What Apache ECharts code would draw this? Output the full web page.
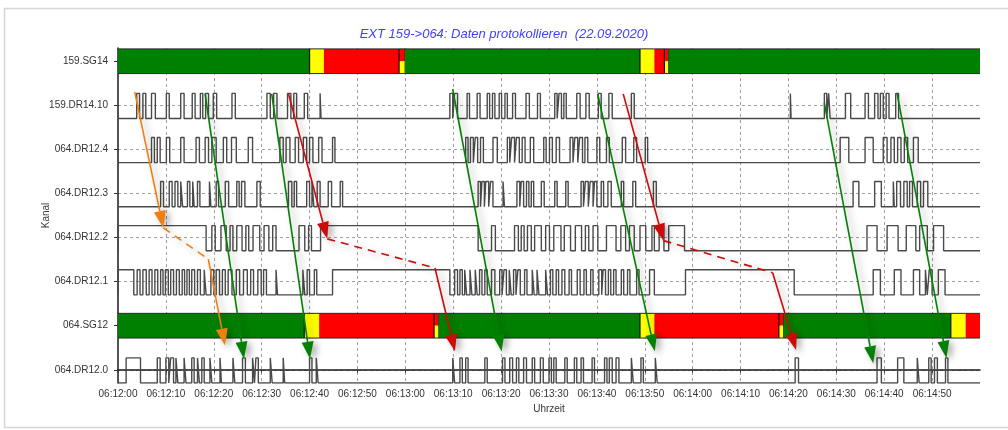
<!DOCTYPE html>
<html>
<head>
<meta charset="utf-8">
<script src="https://cdn.jsdelivr.net/npm/echarts@6/dist/echarts.min.js"></script>
<style>
  html, body { margin: 0; padding: 0; background: #fff; }
  #chart { width: 1008px; height: 430px; }
</style>
</head>
<body>
<div id="chart"></div>
<script>
// Channel names, bottom (value 0) to top (value 7)
const rowNames = ['064.DR12.0', '064.SG12', '064.DR12.1', '064.DR12.2', '064.DR12.3', '064.DR12.4', '159.DR14.10', '159.SG14'];
const rowValues = [0, 1, 2, 3, 4, 5, 6, 7];

// Time axis: seconds after 06:12:00
const startSeconds = 6 * 3600 + 12 * 60;
const timeMin = 0;
const timeMax = 180;
const timeStep = 10;

// Status bars: [from s, to s, state]  state: 0 = ok (green), 1 = warning (yellow), 2 = fault (red), 3 = fault/warning split
const sg14Segments = [[0, 40, 0], [40, 43, 1], [43, 58.7, 2], [58.7, 59.95, 3], [59.95, 109, 0], [109, 112, 1], [112, 114.1, 2], [114.1, 115, 3], [115, 180, 0]];
const sg12Segments = [[0, 38.9, 0], [38.9, 42.0, 1], [42.0, 66.0, 2], [66.0, 67.0, 3], [67.0, 109.0, 0], [109.0, 112.0, 1], [112.0, 138.0, 2], [138.0, 139.0, 3], [139.0, 173.9, 0], [173.9, 177.0, 1], [177.0, 180, 2]];

// Digital channels: intervals [from s, to s] where the signal is high
const dr1410High = [[3.9, 4.5], [5.2, 5.8], [7.0, 7.8], [10.1, 10.7], [13.1, 13.8], [15.5, 16.1], [17.2, 17.7], [18.3, 18.9], [19.9, 20.6], [23.8, 24.5], [31.1, 31.8], [32.5, 33.2], [35.4, 36.1], [36.7, 37.3], [38.9, 39.6], [42.2, 42.4],
  [69.3, 69.9], [70.3, 70.9], [72.9, 73.4], [75.0, 75.6], [77.1, 77.6], [78.2, 78.7], [79.6, 80.1], [80.8, 81.3], [82.4, 83.0], [85.2, 85.9], [87.6, 88.2], [91.2, 91.7], [92.1, 92.6], [93.1, 93.6], [95.8, 96.5], [97.7, 98.4], [100.3, 100.9], [102.5, 103.2], [107.2, 107.8],
  [140.4, 140.55], [147.5, 148.0], [148.4, 148.7], [151.9, 153.0], [156.0, 156.7], [158.0, 158.7], [159.2, 159.8], [160.4, 161.0], [162.4, 163.0]];
const dr124High = [[7.0, 7.6], [8.2, 8.8], [10.1, 10.8], [13.1, 13.8], [16.3, 17.0], [18.2, 18.9], [19.6, 20.5], [22.0, 22.7], [23.7, 24.7], [27.2, 28.1], [33.8, 34.5], [35.1, 35.9], [37.0, 37.7], [38.7, 39.4], [40.0, 40.7], [41.9, 42.6], [44.8, 45.3],
  [72.6, 73.1], [73.6, 74.2], [74.6, 75.1], [75.7, 76.3], [78.3, 79.2], [81.3, 81.8], [82.2, 82.8], [83.2, 83.8], [84.4, 85.0], [86.1, 86.8], [88.9, 89.4], [90.1, 90.7], [91.5, 92.2], [94.4, 95.0], [95.4, 96.0], [96.4, 97.0], [97.5, 98.1], [100.0, 100.6], [102.0, 102.6], [105.3, 106.0], [107.7, 108.3], [110.1, 110.6],
  [150.8, 152.6], [156.0, 157.7], [159.8, 160.6], [161.4, 162.1], [162.8, 163.5], [164.2, 164.9], [166.1, 167.1]];
const dr123High = [[8.9, 9.5], [10.7, 11.3], [11.9, 12.5], [13.1, 13.5], [14.5, 15.0], [15.6, 15.9], [16.6, 17.1], [19.1, 19.4], [20.5, 21.0], [22.4, 23.1], [24.8, 25.3], [25.8, 26.5], [29.0, 29.7], [35.6, 36.3], [36.8, 37.3], [39.4, 40.0], [40.5, 40.9], [41.6, 42.2], [43.9, 44.6], [46.4, 46.9],
  [75.2, 75.7], [76.0, 76.5], [76.8, 77.4], [77.8, 78.3], [80.4, 80.7], [83.3, 83.9], [84.2, 84.7], [85.3, 85.8], [86.3, 86.8], [88.4, 89.0], [91.2, 91.7], [93.5, 94.0], [96.7, 97.2], [97.6, 98.2], [98.6, 99.2], [99.5, 100.0], [100.9, 101.4], [102.3, 103.0], [105.1, 105.6], [107.5, 108.1], [111.8, 112.4],
  [153.5, 154.7], [158.0, 159.4], [161.9, 162.1], [162.6, 163.4], [164.1, 164.8], [165.3, 165.9], [166.9, 167.6], [168.2, 169.1]];
const dr122High = [[0, 18.4], [19.6, 20.3], [21.5, 22.6], [23.4, 24.0], [24.8, 25.9], [26.7, 27.3], [28.2, 29.6], [30.5, 31.5], [32.3, 33.0], [37.8, 39.0], [39.8, 40.4], [42.3, 75.2],
  [78.0, 78.8], [82.8, 83.6], [84.2, 84.8], [85.5, 86.3], [87.0, 88.4], [89.3, 90.1], [91.0, 92.5], [93.2, 94.5], [95.5, 96.8], [97.6, 98.3], [99.2, 100.2], [102.0, 104.0], [105.0, 106.0], [106.8, 107.8], [109.0, 110.2], [111.5, 112.0], [113.0, 114.0], [115.0, 118.3],
  [156.4, 158.5], [160.6, 162.9], [164.6, 166.6], [167.4, 169.0], [170.3, 172.4]];
const dr121High = [[0, 3.3], [4.0, 4.6], [5.2, 5.9], [6.5, 7.1], [7.7, 8.3], [8.9, 9.4], [9.9, 10.5], [11.0, 11.6], [12.2, 12.8], [13.4, 13.9], [14.4, 14.9], [15.4, 16.0], [16.6, 17.2], [18.0, 18.4], [19.4, 20.0], [20.5, 21.2], [21.8, 22.4], [23.0, 23.8], [24.7, 25.4], [26.2, 27.0], [27.7, 28.3], [29.2, 29.9], [30.4, 31.0], [33.0, 33.3], [38.6, 39.0], [39.5, 40.0], [41.0, 41.5], [44.8, 69.3],
  [70.3, 70.9], [71.4, 71.9], [72.4, 72.8], [73.5, 73.9], [74.6, 75.0], [75.5, 76.0], [76.6, 77.1], [78.0, 78.7], [79.7, 80.2], [80.6, 81.1], [81.7, 82.1], [82.6, 83.1], [83.5, 84.0], [84.9, 85.4], [86.5, 86.9], [87.5, 87.9], [89.3, 89.7], [90.3, 90.8], [91.5, 92.0], [92.7, 93.3], [94.2, 94.7], [95.9, 96.5], [97.3, 97.8], [98.7, 99.2], [100.4, 101.0], [101.3, 101.8], [102.4, 102.9], [103.5, 104.0], [105.1, 105.6], [106.4, 106.9], [108.3, 108.8], [111.0, 112.0], [118.5, 141.2],
  [157.7, 159.2], [162.1, 163.5], [166.1, 167.4], [168.6, 169.0], [169.4, 170.0], [171.3, 172.7]];
const dr120High = [[1.7, 4.7], [8.2, 8.8], [10.0, 10.6], [11.0, 11.6], [12.1, 12.5], [13.8, 14.2], [15.4, 15.9], [16.6, 17.0], [17.5, 18.0], [19.2, 19.6], [21.3, 21.6], [24.0, 24.4], [26.0, 26.6], [28.1, 28.5], [28.8, 29.3], [31.8, 32.2], [34.5, 34.8], [40.0, 40.5], [41.4, 41.8],
  [69.9, 70.3], [71.4, 71.9], [72.6, 73.1], [76.6, 77.1], [80.3, 80.8], [81.8, 82.4], [83.2, 83.7], [84.7, 85.3], [86.5, 87.0], [88.2, 88.8], [90.0, 90.5], [91.0, 91.5], [93.3, 93.8], [95.3, 95.8], [96.7, 97.2], [99.0, 99.5], [101.6, 102.1], [102.6, 103.2], [104.0, 104.6], [107.2, 107.6], [109.2, 109.7], [112.2, 112.6],
  [141.4, 142.1], [158.5, 159.4], [162.8, 164.1], [166.9, 167.3], [169.3, 169.8], [170.5, 171.1], [172.8, 173.3]];

// Cause/effect arrows: [t1, v1, t2, v2, colour index, dashed, arrow head]
const arrowSegments = [
  [3.5, 6.3, 9.46, 3.22, 0, 0, 1],
  [9.46, 3.22, 18.86, 2.51, 0, 1, 0],
  [18.86, 2.51, 22.34, 0.55, 0, 0, 1],
  [18.17, 6.27, 26.3, 0.25, 1, 0, 1],
  [32.1, 6.26, 40.1, 0.25, 1, 0, 1],
  [35.57, 6.27, 43.7, 2.97, 2, 0, 1],
  [43.7, 2.97, 66.19, 2.31, 2, 1, 0],
  [66.19, 2.31, 70.37, 0.42, 2, 0, 1],
  [69.89, 6.37, 80.1, 0.42, 1, 0, 1],
  [100.17, 6.26, 112.1, 0.42, 1, 0, 1],
  [105.5, 6.26, 113.9, 2.93, 2, 0, 1],
  [113.9, 2.93, 136.7, 2.2, 2, 1, 0],
  [136.7, 2.2, 141.6, 0.45, 2, 0, 1],
  [147.5, 6.05, 157.7, 0.15, 1, 0, 1],
  [162.7, 6.26, 173.0, 0.27, 1, 0, 1]
];

const arrowColors = ['#f07f12', '#058005', '#cc0a0a'];
const stateColors = ['#008000', '#ffff00', '#ff0000'];
const HIGH = 0.27, LOW = -0.3, BAR_HALF = 0.28;
const fontFamily = '"Liberation Sans", Arial, sans-serif';

function pad2(n) { return (n < 10 ? '0' : '') + n; }
function clock(v) {
  const s = Math.round(startSeconds + v);
  return pad2(Math.floor(s / 3600)) + ':' + pad2(Math.floor(s / 60) % 60) + ':' + pad2(s % 60);
}

// Square wave polyline for one channel
function wave(row, highs) {
  const lo = row + LOW, hi = row + HIGH;
  const pts = [[timeMin, lo]];
  highs.forEach(([a, b]) => {
    pts.push([a, lo], [a, hi], [b, hi], [b, lo]);
  });
  pts.push([timeMax, lo]);
  return pts;
}

function barData(row, segs) {
  return segs.map(s => [s[0], s[1], row, s[2]]);
}

function renderBar(params, api) {
  const a = api.coord([api.value(0), api.value(2)]);
  const b = api.coord([api.value(1), api.value(2)]);
  const h = api.size([0, BAR_HALF * 2])[1];
  const state = api.value(3);
  const x = a[0], w = b[0] - a[0], y = a[1] - h / 2;
  const children = [];
  if (state === 3) {
    children.push({ type: 'rect', shape: { x, y, width: w, height: h / 2 }, style: { fill: stateColors[2] } });
    children.push({ type: 'rect', shape: { x, y: y + h / 2, width: w, height: h / 2 }, style: { fill: stateColors[1] } });
  } else {
    children.push({ type: 'rect', shape: { x, y, width: w, height: h }, style: { fill: stateColors[state] } });
  }
  const edge = { stroke: '#2a2a2a', lineWidth: 1 };
  children.push({ type: 'line', shape: { x1: x, y1: y, x2: x + w, y2: y }, style: edge });
  children.push({ type: 'line', shape: { x1: x, y1: y + h, x2: x + w, y2: y + h }, style: edge });
  if (state === 1 || state === 3) {
    children.push({ type: 'line', shape: { x1: x, y1: y, x2: x, y2: y + h }, style: { stroke: '#111', lineWidth: 1.2 } });
  }
  if (state === 3) {
    children.push({ type: 'line', shape: { x1: x + w, y1: y, x2: x + w, y2: y + h }, style: { stroke: '#222', lineWidth: 1 } });
  }
  return { type: 'group', children };
}

function renderArrow(params, api) {
  const p1 = api.coord([api.value(0), api.value(1)]);
  const p2 = api.coord([api.value(2), api.value(3)]);
  const color = arrowColors[api.value(4)];
  const dashed = api.value(5) === 1;
  const head = api.value(6) === 1;
  const dx = p2[0] - p1[0], dy = p2[1] - p1[1];
  const len = Math.sqrt(dx * dx + dy * dy) || 1;
  const ux = dx / len, uy = dy / len;
  const headLen = 17, headHalf = 6;
  const end = head ? [p2[0] - ux * headLen, p2[1] - uy * headLen] : p2;
  const shadow = { shadowColor: 'rgba(0,0,0,0.35)', shadowBlur: 7, shadowOffsetX: 4, shadowOffsetY: 3 };
  const children = [{
    type: 'line',
    shape: { x1: p1[0], y1: p1[1], x2: end[0], y2: end[1] },
    style: Object.assign({ stroke: color, lineWidth: 1.6, lineDash: dashed ? [8, 6] : null }, shadow)
  }];
  if (head) {
    children.push({
      type: 'polygon',
      shape: { points: [[p2[0], p2[1]], [end[0] - uy * headHalf, end[1] + ux * headHalf], [end[0] + uy * headHalf, end[1] - ux * headHalf]] },
      style: Object.assign({ fill: color }, shadow)
    });
  }
  return { type: 'group', children };
}

const waves = [
  [6, dr1410High], [5, dr124High], [4, dr123High], [3, dr122High], [2, dr121High], [0, dr120High]
];

const chart = echarts.init(document.getElementById('chart'));
chart.setOption({
  animation: false,
  backgroundColor: '#fff',
  title: {
    text: 'EXT 159->064: Daten protokollieren  (22.09.2020)',
    left: 'center',
    top: 28,
    padding: 0,
    textStyle: { color: '#4040ff', fontStyle: 'italic', fontWeight: 'normal', fontSize: 13, fontFamily }
  },
  graphic: [{
    type: 'rect', silent: true, z: -10,
    shape: { x: 4.5, y: 8.5, width: 1030, height: 419 },
    style: { fill: 'none', stroke: '#d6d6d6', lineWidth: 1.5 }
  }],
  grid: { left: 118, right: 28, top: 48, bottom: 47 },
  xAxis: {
    type: 'value', min: timeMin, max: timeMax, interval: timeStep,
    name: 'Uhrzeit', nameLocation: 'middle', nameGap: 20,
    nameTextStyle: { color: '#333', fontSize: 10, fontFamily },
    axisLine: { lineStyle: { color: '#1a1a1a', width: 1.5 } },
    axisTick: { length: 3, lineStyle: { color: '#333' } },
    axisLabel: { formatter: clock, color: '#333', fontSize: 10, fontFamily, margin: 6, showMaxLabel: false },
    splitLine: { show: true, showMinLine: false, showMaxLine: false, lineStyle: { color: '#a0a0a0', type: [3, 3], width: 1 } }
  },
  yAxis: {
    type: 'value', min: -0.3, max: 7.3,
    name: 'Kanal', nameLocation: 'middle', nameGap: 67, nameRotate: 90, nameMoveOverlap: false,
    nameTextStyle: { color: '#333', fontSize: 10, fontFamily },
    axisLine: { show: true, lineStyle: { color: '#1a1a1a', width: 1.5 } },
    axisTick: { show: true, length: 4, customValues: rowValues, lineStyle: { color: '#333' } },
    axisLabel: { customValues: rowValues, formatter: v => rowNames[Math.round(v)], color: '#333', fontSize: 10, fontFamily, margin: 10 },
    splitLine: { show: true, lineStyle: { color: '#a0a0a0', type: [3, 3], width: 1 } }
  },
  series: [
    {
      type: 'custom', name: '159.SG14', renderItem: renderBar, z: 2,
      encode: { x: [0, 1], y: 2 }, data: barData(7, sg14Segments)
    },
    {
      type: 'custom', name: '064.SG12', renderItem: renderBar, z: 2,
      encode: { x: [0, 1], y: 2 }, data: barData(1, sg12Segments)
    },
    ...waves.map(([row, highs]) => ({
      type: 'line', name: rowNames[row], z: 3,
      data: wave(row, highs), showSymbol: false, symbol: 'none',
      lineStyle: { color: '#4a4a4a', width: 1.4 }
    })),
    {
      type: 'custom', name: 'Wirkung', renderItem: renderArrow, z: 5,
      encode: { x: [0, 2], y: [1, 3] }, data: arrowSegments
    }
  ]
});
</script>
</body>
</html>
